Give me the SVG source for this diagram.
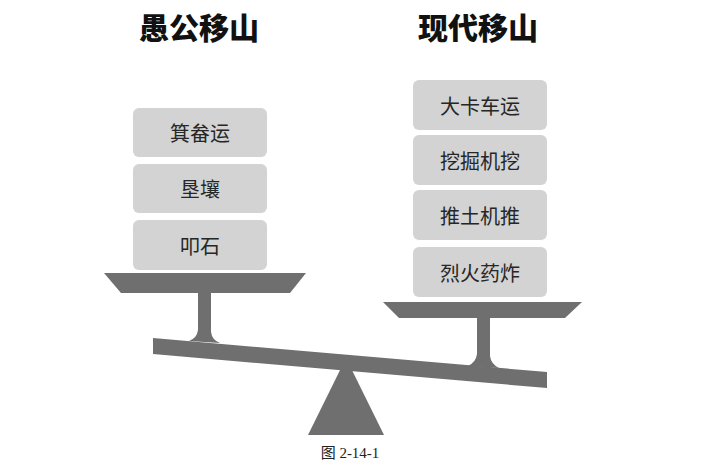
<svg xmlns="http://www.w3.org/2000/svg" width="701" height="470" viewBox="0 0 701 470">
  <style>
    .title { font-family: "Noto Sans CJK SC", sans-serif; font-weight: 900; font-size: 30px; fill: #111; text-anchor: middle; }
    .box rect { fill: #d3d3d3; }
    .box text { font-family: "Noto Sans CJK SC", sans-serif; font-size: 20px; fill: #262626; text-anchor: middle; dominant-baseline: central; }
    .metal { fill: #6f6f6f; }
    .caption { font-family: "Liberation Serif", "Noto Sans CJK SC", serif; font-size: 15px; fill: #222; text-anchor: middle; }
  </style>
  <rect width="701" height="470" fill="#fff"/>

  <text class="title" x="199" y="39">愚公移山</text>
  <text class="title" x="478" y="39">现代移山</text>

  <!-- scale frame -->
  <g id="scale">
    <!-- fulcrum -->
    <polygon class="metal" points="346,358 308,435 384,435"/>
    <!-- beam -->
    <polygon class="metal" points="153,338 547,372 547,388 153,354"/>
    <!-- left stem -->
    <path class="metal" d="M198,292 L211,292 L211,332 Q212,340 220,343 L189,341 Q197,338 198,330 Z"/>
    <!-- right stem -->
    <path class="metal" d="M477,316 L490,316 L490,356 Q491,364 499,368 L468,366 Q476,362 477,354 Z"/>
    <!-- pans -->
    <polygon class="metal" points="104,273 306,273 290,293 121,293"/>
    <polygon class="metal" points="383,302 582,302 565,318 399,318"/>
  </g>

  <!-- left stack -->
  <g id="node-jiben" class="box"><rect x="133" y="108" width="134" height="49" rx="6"/><text x="200" y="132.5">箕畚运</text></g>
  <g id="node-kenrang" class="box"><rect x="133" y="164" width="134" height="49" rx="6"/><text x="200" y="188.5">垦壤</text></g>
  <g id="node-koushi" class="box"><rect x="133" y="220" width="134" height="50" rx="6"/><text x="200" y="245">叩石</text></g>

  <!-- right stack -->
  <g id="node-kache" class="box"><rect x="413" y="80" width="134" height="50" rx="6"/><text x="480" y="105">大卡车运</text></g>
  <g id="node-wajue" class="box"><rect x="413" y="135" width="134" height="50" rx="6"/><text x="480" y="160">挖掘机挖</text></g>
  <g id="node-tuitu" class="box"><rect x="413" y="190" width="134" height="50" rx="6"/><text x="480" y="215">推土机推</text></g>
  <g id="node-zhayao" class="box"><rect x="413" y="247" width="134" height="50" rx="6"/><text x="480" y="272">烈火药炸</text></g>

  <g id="connectors"></g>

  <text class="caption" x="350" y="458">图 2-14-1</text>
</svg>
